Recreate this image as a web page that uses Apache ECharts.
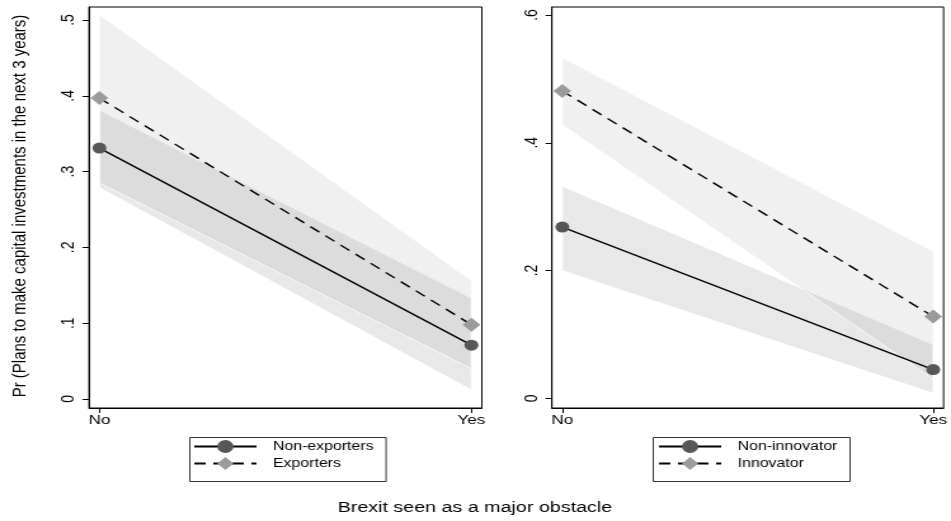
<!DOCTYPE html>
<html>
<head>
<meta charset="utf-8">
<script src="https://cdn.jsdelivr.net/npm/echarts@6/dist/echarts.min.js"></script>
<style>
html,body{margin:0;padding:0;background:#fff;overflow:hidden;width:951px;height:521px;}
#c{width:749px;height:521px;transform:scaleX(1.26969);transform-origin:0 0;}
</style>
</head>
<body>
<div id="c"></div>
<script>
// ---- data ----
const categories = ['No', 'Yes'];
const leftTicks = [0, 0.1, 0.2, 0.3, 0.4, 0.5];
const rightTicks = [0, 0.2, 0.4, 0.6];

const nonExporters   = [0.331, 0.071];
const nonExportersLo = [0.279, 0.012];
const nonExportersHi = [0.381, 0.133];
const exporters      = [0.397, 0.098];
const exportersLo    = [0.285, 0.040];
const exportersHi    = [0.507, 0.156];

const nonInnovator   = [0.268, 0.045];
const nonInnovatorLo = [0.200, 0.008];
const nonInnovatorHi = [0.332, 0.084];
const innovator      = [0.481, 0.128];
const innovatorLo    = [0.428, 0.030];
const innovatorHi    = [0.533, 0.230];

const seriesNames = ['Non-exporters', 'Exporters', 'Non-innovator', 'Innovator'];
const yTitle = 'Pr (Plans to make capital investments in the next 3 years)';
const xTitle = 'Brexit seen as a major obstacle';

// ---- chart ----
const FONT = 'Liberation Sans, Arial, sans-serif';
const chart = echarts.init(document.getElementById('c'));

function pts(vals) { return vals.map((v, i) => [i, v]); }
function tickFmt(v) { return v === 0 ? '0' : String(+v.toFixed(2)).replace(/^0\./, '.'); }

function band(idx, lo, hi, fill) {
  return {
    type: 'custom', xAxisIndex: idx, yAxisIndex: idx, silent: true, z: 1,
    data: [[0, lo[0]]],
    renderItem: function (params, api) {
      const p = [];
      for (let i = 0; i < lo.length; i++) p.push(api.coord([i, lo[i]]));
      for (let i = hi.length - 1; i >= 0; i--) p.push(api.coord([i, hi[i]]));
      return { type: 'polygon', shape: { points: p },
        style: { fill: fill, stroke: 'rgba(255,255,255,0.75)', lineWidth: 1 } };
    }
  };
}
function line(idx, name, vals, solid) {
  return {
    type: 'line', name: name, xAxisIndex: idx, yAxisIndex: idx, z: 5,
    data: pts(vals),
    symbol: solid ? 'circle' : 'diamond',
    symbolSize: solid ? 11 : 14,
    showAllSymbol: true,
    itemStyle: { color: solid ? '#575757' : '#9b9b9b' },
    lineStyle: { color: '#000', width: 1.4, type: solid ? 'solid' : [9, 6] },
    emphasis: { disabled: true },
    animation: false
  };
}
function xAx(idx) {
  return {
    type: 'value', gridIndex: idx, min: -0.028, max: 1.028,
    axisLine: { show: true, onZero: false, lineStyle: { color: '#000', width: 1 } },
    axisTick: { show: true, customValues: [0, 1], length: 5, lineStyle: { color: '#000' } },
    axisLabel: { customValues: [0, 1], formatter: v => categories[Math.round(v)],
      fontSize: 13.5, fontFamily: FONT, color: '#000', margin: 5 },
    splitLine: { show: false }
  };
}
function yAx(idx, ticks, min, max) {
  return {
    type: 'value', gridIndex: idx, min: min, max: max,
    axisLine: { show: true, onZero: false, lineStyle: { color: '#000', width: 1 } },
    axisTick: { show: true, customValues: ticks, length: 5, lineStyle: { color: '#000' } },
    axisLabel: { customValues: ticks, formatter: tickFmt, rotate: 90,
      fontSize: 14, fontFamily: FONT, color: '#000', margin: 9 },
    splitLine: { show: false }
  };
}
function legend(left, names) {
  return {
    left: left, top: 440, orient: 'vertical', padding: 0,
    data: names, itemWidth: 49, itemHeight: 16, itemGap: 4,
    selectedMode: false,
    textStyle: { fontSize: 12.5, fontFamily: FONT, color: '#000', padding: [0, 0, 0, 8] }
  };
}

chart.setOption({
  animation: false,
  grid: [
    { left: 70.1, top: 7, width: 309.4, height: 401, show: true, borderColor: '#000', borderWidth: 1 },
    { left: 434.7, top: 7, width: 308.8, height: 401, show: true, borderColor: '#000', borderWidth: 1 }
  ],
  xAxis: [xAx(0), xAx(1)],
  yAxis: [yAx(0, leftTicks, -0.0119, 0.5172), yAx(1, rightTicks, -0.0152, 0.6125)],
  legend: [legend(152, [seriesNames[0], seriesNames[1]]), legend(518, [seriesNames[2], seriesNames[3]])],
  graphic: [
    { type: 'rect', left: 147, top: 435, shape: { width: 154.6, height: 44 },
      style: { fill: 'none', stroke: '#333', lineWidth: 1 }, silent: true },
    { type: 'rect', left: 512, top: 435, shape: { width: 155, height: 44 },
      style: { fill: 'none', stroke: '#333', lineWidth: 1 }, silent: true },
    { type: 'text', x: 15.8, y: 206, rotation: Math.PI / 2,
      style: { text: yTitle, font: '15px ' + FONT, fill: '#000', align: 'center', verticalAlign: 'middle' } },
    { type: 'text', x: 374, y: 508,
      style: { text: xTitle, font: '15.5px ' + FONT, fill: '#000', align: 'center', verticalAlign: 'middle' } }
  ],
  series: [
    band(0, nonExportersLo, nonExportersHi, 'rgba(128,128,128,0.18)'),
    band(0, exportersLo, exportersHi, 'rgba(128,128,128,0.12)'),
    band(1, nonInnovatorLo, nonInnovatorHi, 'rgba(128,128,128,0.18)'),
    band(1, innovatorLo, innovatorHi, 'rgba(128,128,128,0.12)'),
    line(0, seriesNames[0], nonExporters, true),
    line(0, seriesNames[1], exporters, false),
    line(1, seriesNames[2], nonInnovator, true),
    line(1, seriesNames[3], innovator, false)
  ]
});
</script>
</body>
</html>
